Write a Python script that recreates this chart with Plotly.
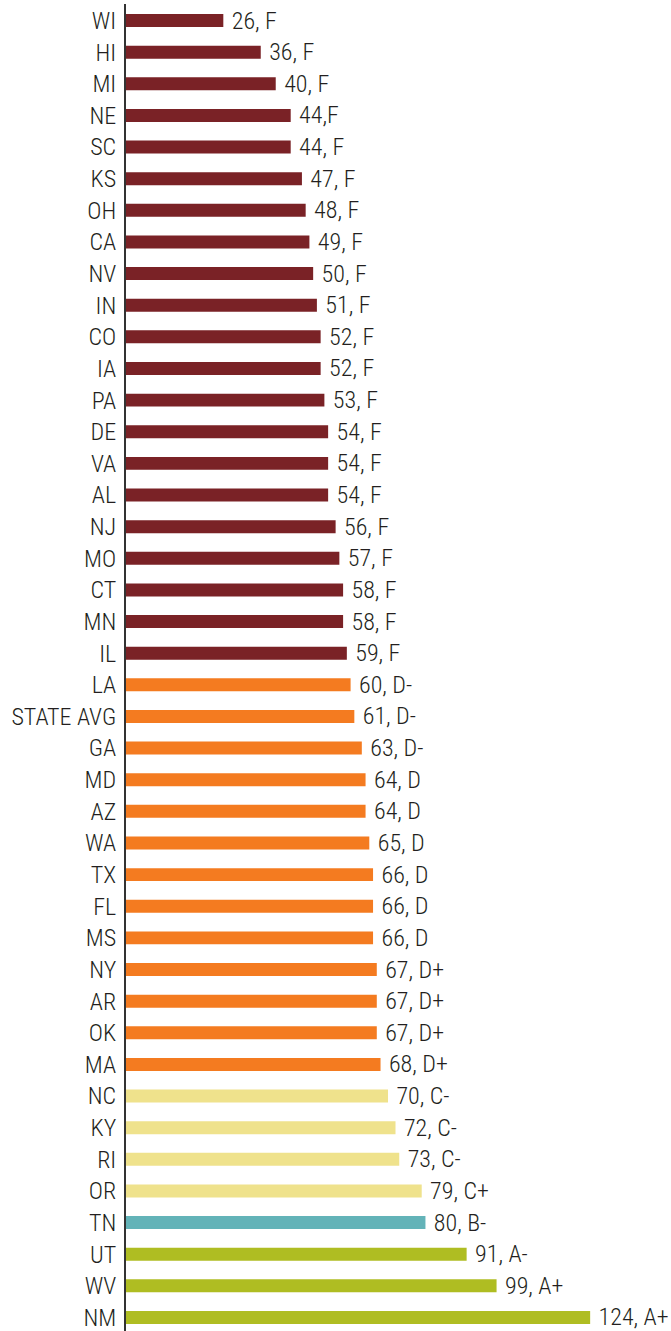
import plotly.graph_objects as go

states = ["WI", "HI", "MI", "NE", "SC", "KS", "OH", "CA", "NV", "IN", "CO", "IA", "PA", "DE",
          "VA", "AL", "NJ", "MO", "CT", "MN", "IL", "LA", "STATE AVG", "GA", "MD", "AZ", "WA",
          "TX", "FL", "MS", "NY", "AR", "OK", "MA", "NC", "KY", "RI", "OR", "TN", "UT", "WV", "NM"]
scores = [26, 36, 40, 44, 44, 47, 48, 49, 50, 51, 52, 52, 53, 54,
          54, 54, 56, 57, 58, 58, 59, 60, 61, 63, 64, 64, 65,
          66, 66, 66, 67, 67, 67, 68, 70, 72, 73, 79, 80, 91, 99, 124]
grades = ["F", "F", "F", "F", "F", "F", "F", "F", "F", "F", "F", "F", "F", "F",
          "F", "F", "F", "F", "F", "F", "F", "D-", "D-", "D-", "D", "D", "D",
          "D", "D", "D", "D+", "D+", "D+", "D+", "C-", "C-", "C-", "C+", "B-", "A-", "A+", "A+"]
separators = [", "] * len(states)
separators[3] = ","  # "44,F" as printed for NE

grade_colors = {"F": "#7a2226", "D": "#f47b20", "C": "#efe28c", "B": "#63b3b8", "A": "#afbd22"}
colors = [grade_colors[g[0]] for g in grades]
labels = [" " + str(s) + sep + g for s, sep, g in zip(scores, separators, grades)]

FONT = "Roboto Condensed, DejaVu Sans Condensed, sans-serif"

fig = go.Figure(go.Bar(
    x=scores, y=states, orientation="h",
    marker=dict(color=colors, line=dict(width=0)),
    width=0.41,
    text=labels, textposition="outside", cliponaxis=False,
    constraintext="none",
    textfont=dict(family=FONT, size=24, color="#231f20", weight=300),
))

fig.update_layout(
    width=671, height=1331,
    margin=dict(l=126, r=0, t=4, b=0, autoexpand=False),
    plot_bgcolor="white", paper_bgcolor="white",
    showlegend=False,
    font=dict(family=FONT, size=24, color="#231f20", weight=300),
    xaxis=dict(range=[0, 145.6], visible=False, showgrid=False, zeroline=False,
               automargin=False),
    yaxis=dict(type="category", categoryorder="array", categoryarray=states,
               range=[41.427, -0.522], showgrid=False, zeroline=False,
               automargin=False,
               showline=True, linecolor="#333333", linewidth=2, ticks="",
               ticklabelstandoff=3,
               tickfont=dict(family=FONT, size=24, color="#231f20", weight=300)),
)

fig.write_html("out.html", config={"displayModeBar": False},
               post_script="document.body.style.margin='0';")
